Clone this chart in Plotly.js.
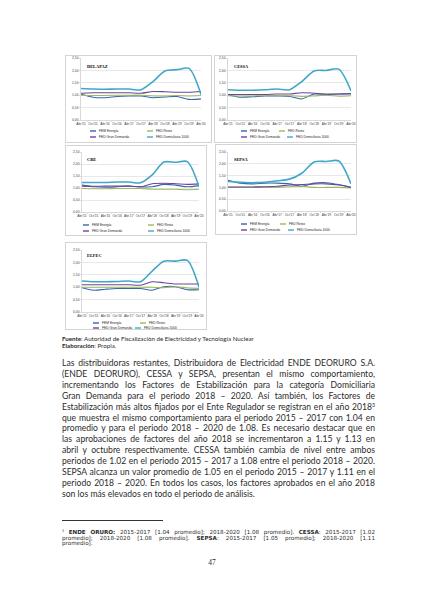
<!DOCTYPE html>
<html>
<head>
<meta charset="utf-8">
<script src="https://cdn.plot.ly/plotly-3.0.1.min.js"></script>
<style>
    body { margin: 0; width: 424px; height: 600px; background: #fff; position: relative; overflow: hidden; color: #2b2b2b; }
    .box { position: absolute; border: 1px solid #d4d4d4; box-sizing: border-box; background: #fff; }
    .txt { position: absolute; font-family: Lato, 'Liberation Sans', sans-serif; }
    .line { text-align: justify; text-align-last: justify; }
    .line.last { text-align-last: left; }
    sup { font-size: 60%; line-height: 0; vertical-align: 0.55em; }
</style>
</head>
<body>
<div id="charts"></div>

<div class="txt" style="left:62px; top:335px; font-size:6.2px; line-height:7px;">
    <div><b>Fuente</b>: Autoridad de Fiscalización de Electricidad y Tecnología Nuclear</div>
    <div><b>Elaboración</b>: Propia.</div>
</div>
<div id="para" class="txt" style="left:62px; top:358px; width:313px; line-height:10.9px;"></div>
<div style="position:absolute; left:62px; top:519.5px; width:101px; border-top:0.7px solid #333;"></div>
<div id="note" class="txt" style="left:62px; top:530px; width:313px; line-height:5.7px; font-family:'DejaVu Sans', sans-serif;"></div>
<div style="position:absolute; left:0; width:424px; top:558px; text-align:center; font-family:'Liberation Serif', serif; font-size:7.5px;">47</div>

<script>
    // Periods on the x axis (semester approvals)
    const periods = ["Abr'15", "Oct'15", "Abr'16", "Oct'16", "Abr'17", "Oct'17",
                     "Abr'18", "Oct'18", "Abr'19", "Oct'19", "Abr'20"];
    const seriesNames = ['FEM Energía', 'FED Resto', 'FED Gran Demanda', 'FED Domiciliaria 1000'];

    // DELAPAZ
    const delapazFem   = [1.04, 0.92, 0.90, 0.95, 0.97, 0.97, 0.90, 0.93, 0.95, 0.83, 0.85];
    const delapazResto = [1.00, 0.99, 0.99, 1.00, 1.00, 1.00, 0.97, 0.97, 0.99, 0.97, 0.99];
    const delapazGran  = [1.08, 1.10, 1.10, 1.10, 1.10, 1.08, 1.15, 1.14, 1.12, 1.12, 1.15];
    const delapazDom   = [1.27, 1.25, 1.24, 1.25, 1.25, 1.22, 1.55, 1.98, 2.03, 2.08, 1.03];

    // CESSA
    const cessaFem   = [1.02, 0.92, 0.94, 0.97, 0.97, 0.95, 0.85, 1.05, 1.02, 1.05, 1.05];
    const cessaResto = [0.98, 0.97, 0.97, 0.98, 0.98, 0.98, 0.95, 0.97, 1.00, 0.96, 0.98];
    const cessaGran  = [1.03, 1.03, 1.03, 1.03, 1.05, 1.05, 1.10, 1.08, 1.05, 1.05, 1.07];
    const cessaDom   = [1.22, 1.20, 1.20, 1.22, 1.25, 1.22, 1.55, 1.98, 2.00, 2.05, 1.17];

    // CRE
    const creFem   = [1.12, 1.05, 1.03, 1.05, 1.08, 1.05, 1.05, 1.15, 1.12, 1.05, 1.10];
    const creResto = [0.98, 0.97, 0.97, 0.98, 0.98, 0.98, 0.95, 0.95, 0.95, 0.93, 0.95];
    const creGran  = [1.07, 1.07, 1.08, 1.08, 1.08, 1.05, 1.18, 1.20, 1.18, 1.15, 1.17];
    const creDom   = [1.23, 1.23, 1.23, 1.25, 1.25, 1.22, 1.55, 2.08, 2.07, 2.10, 1.05];

    // SEPSA
    const sepsaFem   = [1.30, 1.18, 1.15, 1.18, 1.18, 1.15, 1.05, 1.18, 1.20, 1.12, 1.00];
    const sepsaResto = [1.00, 1.00, 1.00, 1.00, 1.00, 1.03, 1.05, 1.00, 1.00, 1.00, 0.98];
    const sepsaGran  = [1.02, 1.02, 1.02, 1.03, 1.05, 1.10, 1.12, 1.15, 1.15, 1.10, 1.00];
    const sepsaDom   = [1.25, 1.22, 1.20, 1.22, 1.28, 1.35, 1.60, 2.08, 2.10, 2.12, 1.15];

    // ELFEC
    const elfecFem   = [0.98, 0.88, 0.92, 0.95, 0.95, 0.95, 0.88, 1.02, 1.02, 0.90, 0.90];
    const elfecResto = [1.00, 1.00, 1.00, 1.00, 1.00, 1.00, 1.00, 0.98, 1.02, 0.97, 0.95];
    const elfecGran  = [1.10, 1.10, 1.10, 1.10, 1.10, 1.08, 1.22, 1.18, 1.13, 1.13, 1.13];
    const elfecDom   = [1.25, 1.22, 1.22, 1.23, 1.25, 1.22, 1.65, 2.05, 2.05, 2.08, 1.00];

    const yTicks = [0, 0.5, 1, 1.5, 2, 2.5];

    const seriesColors = ['#3566ad', '#9bbb59', '#7042a0', '#3fa8c8'];
    const seriesWidths = [1.1, 1.1, 1.1, 1.6];

    // box = [left, top, width, height]; leg = legend column offsets per row; rows = px below plot
    const charts = [
        { title: 'DELAPAZ', series: [delapazFem, delapazResto, delapazGran, delapazDom],
          box: [65, 55, 147, 88], m: { l: 15, r: 10, t: 2, b: 22 }, tpos: [4, 6],
          leg: [[9, 66], [9, 66]], rows: [11, 17] },
        { title: 'CESSA', series: [cessaFem, cessaResto, cessaGran, cessaDom],
          box: [214, 55, 143, 88], m: { l: 13, r: 5, t: 2, b: 22 }, tpos: [4, 6],
          leg: [[13, 51], [13, 59]], rows: [11, 17] },
        { title: 'CRE', series: [creFem, creResto, creGran, creDom],
          box: [65, 145, 142, 91], m: { l: 16, r: 7, t: 6, b: 23 }, tpos: [3, 5],
          leg: [[1, 66], [1, 66]], rows: [13, 19] },
        { title: 'SEPSA', series: [sepsaFem, sepsaResto, sepsaGran, sepsaDom],
          box: [215, 144, 142, 91], m: { l: 12, r: 5, t: 7, b: 23 }, tpos: [4, 5],
          leg: [[13, 52], [13, 60]], rows: [13, 19] },
        { title: 'ELFEC', series: [elfecFem, elfecResto, elfecGran, elfecDom],
          box: [65, 242, 142, 88], m: { l: 16, r: 7, t: 7, b: 17 }, tpos: [3, 3],
          leg: [[11, 58], [11, 53]], rows: [11, 16] }
    ];

    const axisGrey = '#bfbfbf';
    const tickFont = { family: 'Liberation Sans, Arial, sans-serif', size: 3.3, color: '#404040' };

    function drawChart(cfg) {
        const [left, top, w, h] = cfg.box;
        const wrap = document.createElement('div');
        wrap.className = 'box';
        wrap.style.left = left + 'px';
        wrap.style.top = top + 'px';
        wrap.style.width = w + 'px';
        wrap.style.height = h + 'px';
        const el = document.createElement('div');
        wrap.appendChild(el);
        document.getElementById('charts').appendChild(wrap);

        const traces = cfg.series.map((vals, i) => ({
            x: periods,
            y: vals,
            type: 'scatter',
            mode: 'lines',
            name: seriesNames[i],
            line: { color: seriesColors[i], width: seriesWidths[i], shape: 'spline', smoothing: 0.8 },
            showlegend: false,
            hoverinfo: 'skip'
        }));

        const annotations = [{
            text: '<b>' + cfg.title + '</b>',
            xref: 'paper', yref: 'paper', x: 0, y: 1,
            xanchor: 'left', yanchor: 'top',
            xshift: cfg.tpos[0], yshift: -cfg.tpos[1] + 2,
            showarrow: false,
            font: { family: 'Liberation Serif, serif', size: 4.4, color: '#000' }
        }];
        const shapes = [];

        // Legend: two entries per row, short line sample + label
        seriesNames.forEach((name, i) => {
            const row = Math.floor(i / 2);
            const off = cfg.leg[row][i % 2];
            const dy = cfg.rows[row];
            shapes.push({
                type: 'line', xref: 'paper', yref: 'paper',
                xsizemode: 'pixel', ysizemode: 'pixel',
                xanchor: 0, yanchor: 0,
                x0: off, x1: off + 6, y0: -dy, y1: -dy,
                line: { color: seriesColors[i], width: 1.4 }
            });
            annotations.push({
                text: name,
                xref: 'paper', yref: 'paper', x: 0, y: 0,
                xanchor: 'left', yanchor: 'middle',
                xshift: off + 6.5, yshift: -dy,
                showarrow: false,
                font: { family: 'Liberation Sans, Arial, sans-serif', size: 3.3, color: '#262626' }
            });
        });

        const layout = {
            width: w - 2,
            height: h - 2,
            margin: cfg.m,
            paper_bgcolor: '#fff',
            plot_bgcolor: '#fff',
            separators: ',.',
            showlegend: false,
            xaxis: {
                type: 'category',
                tickfont: tickFont,
                tickangle: 0,
                showgrid: false,
                showline: true,
                linecolor: axisGrey,
                linewidth: 0.6,
                ticks: 'outside',
                ticklen: 1.2,
                tickwidth: 0.5,
                tickcolor: axisGrey,
                tickson: 'boundaries',
                fixedrange: true
            },
            yaxis: {
                range: [0, 2.5],
                tickvals: yTicks,
                tickformat: '.2f',
                tickfont: tickFont,
                showgrid: true,
                gridcolor: '#d9d9d9',
                gridwidth: 0.6,
                zeroline: false,
                showline: true,
                linecolor: axisGrey,
                linewidth: 0.6,
                ticks: 'outside',
                ticklen: 1.2,
                tickwidth: 0.5,
                tickcolor: axisGrey,
                fixedrange: true
            },
            annotations: annotations,
            shapes: shapes
        };

        Plotly.newPlot(el, traces, layout, { staticPlot: true, displayModeBar: false });
    }

    charts.forEach(drawChart);

    // Body text, kept on the same line breaks as the page
    const paragraphLines = [
        'Las distribuidoras restantes, Distribuidora de Electricidad ENDE DEORURO S.A.',
        '(ENDE DEORURO), CESSA y SEPSA, presentan el mismo comportamiento,',
        'incrementando los Factores de Estabilización para la categoría Domiciliaria',
        'Gran Demanda para el periodo 2018 – 2020. Así también, los Factores de',
        'Estabilización más altos fijados por el Ente Regulador se registran en el año 2018<sup>3</sup>',
        'que muestra el mismo comportamiento para el periodo 2015 – 2017 con 1.04 en',
        'promedio y para el periodo 2018 – 2020 de 1.08. Es necesario destacar que en',
        'las aprobaciones de factores del año 2018 se incrementaron a 1.15 y 1.13 en',
        'abril y octubre respectivamente. CESSA también cambia de nivel entre ambos',
        'periodos de 1.02 en el periodo 2015 – 2017 a 1.08 entre el periodo 2018 – 2020.',
        'SEPSA alcanza un valor promedio de 1.05 en el periodo 2015 – 2017 y 1.11 en el',
        'periodo 2018 – 2020. En todos los casos, los factores aprobados en el año 2018',
        'son los más elevados en todo el periodo de análisis.'
    ];

    const noteLines = [
        '<sup>3</sup> <b>ENDE ORURO:</b> 2015-2017 [1.04 promedio]; 2018-2020 [1.08 promedio]. <b>CESSA</b>: 2015-2017 [1.02',
        'promedio]; 2018-2020 [1.08 promedio]. <b>SEPSA</b>: 2015-2017 [1.05 promedio]; 2018-2020 [1.11',
        'promedio].'
    ];

    // Write lines, then shrink the font until the widest line fits the column
    function setLines(containerId, lines, basePx) {
        const box = document.getElementById(containerId);
        const target = box.clientWidth * 0.985;
        box.style.fontSize = basePx + 'px';
        const divs = lines.map(html => {
            const d = document.createElement('div');
            d.innerHTML = html;
            d.style.whiteSpace = 'nowrap';
            box.appendChild(d);
            return d;
        });
        let widest = 0;
        divs.forEach(d => {
            const r = document.createRange();
            r.selectNodeContents(d);
            widest = Math.max(widest, r.getBoundingClientRect().width);
        });
        const size = basePx * Math.min(1, target / widest);
        box.style.fontSize = size.toFixed(2) + 'px';
        divs.forEach((d, i) => {
            d.style.whiteSpace = 'normal';
            d.className = i === divs.length - 1 ? 'line last' : 'line';
        });
    }

    setLines('para', paragraphLines, 9);
    setLines('note', noteLines, 5.6);
</script>
</body>
</html>
